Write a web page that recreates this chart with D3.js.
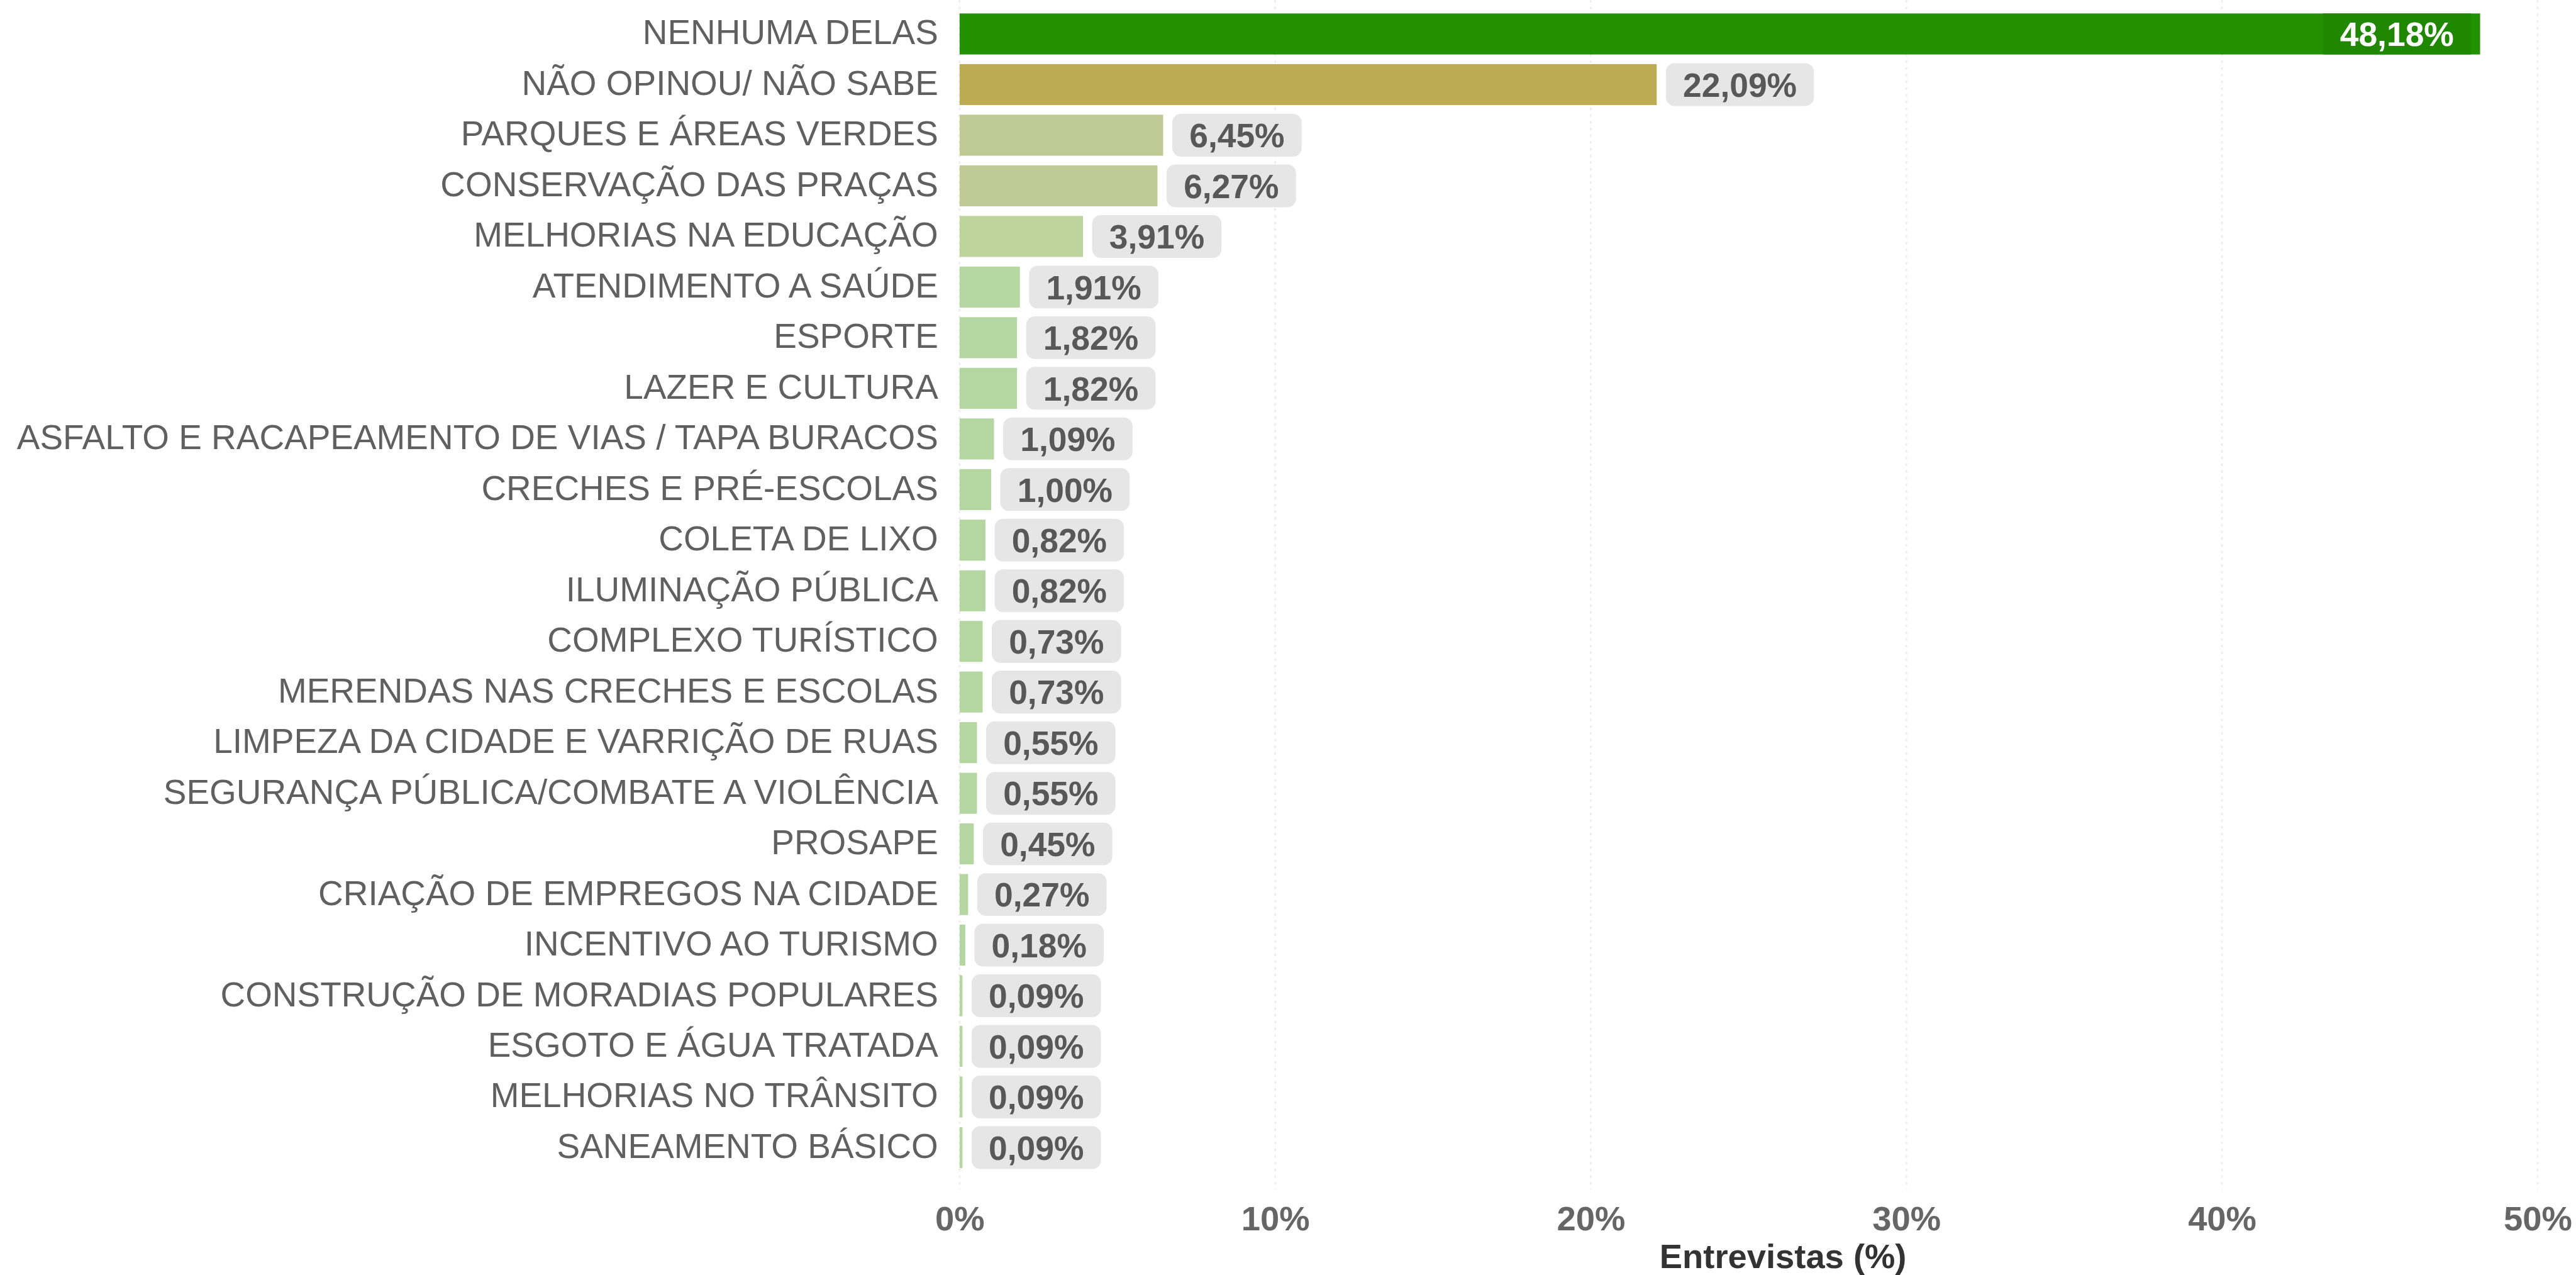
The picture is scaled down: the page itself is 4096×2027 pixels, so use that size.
<!DOCTYPE html>
<html>
<head>
<meta charset="utf-8">
<script src="https://cdn.jsdelivr.net/npm/d3@7"></script>
<style>
    html, body { margin: 0; padding: 0; background: #fff; }
    svg { display: block; font-family: "Liberation Sans", Arial, Helvetica, sans-serif; }
</style>
</head>
<body>
<svg id="plot"></svg>
<script>

// Data.

const CATEGORIES = [
    "NENHUMA DELAS",
    "NÃO OPINOU/ NÃO SABE",
    "PARQUES E ÁREAS VERDES",
    "CONSERVAÇÃO DAS PRAÇAS",
    "MELHORIAS NA EDUCAÇÃO",
    "ATENDIMENTO A SAÚDE",
    "ESPORTE",
    "LAZER E CULTURA",
    "ASFALTO E RACAPEAMENTO DE VIAS / TAPA BURACOS",
    "CRECHES E PRÉ-ESCOLAS",
    "COLETA DE LIXO",
    "ILUMINAÇÃO PÚBLICA",
    "COMPLEXO TURÍSTICO",
    "MERENDAS NAS CRECHES E ESCOLAS",
    "LIMPEZA DA CIDADE E VARRIÇÃO DE RUAS",
    "SEGURANÇA PÚBLICA/COMBATE A VIOLÊNCIA",
    "PROSAPE",
    "CRIAÇÃO DE EMPREGOS NA CIDADE",
    "INCENTIVO AO TURISMO",
    "CONSTRUÇÃO DE MORADIAS POPULARES",
    "ESGOTO E ÁGUA TRATADA",
    "MELHORIAS NO TRÂNSITO",
    "SANEAMENTO BÁSICO",
];

const VALUES = [
    48.18, 22.09, 6.45, 6.27, 3.91, 1.91, 1.82, 1.82, 1.09, 1.00, 0.82, 0.82,
    0.73, 0.73, 0.55, 0.55, 0.45, 0.27, 0.18, 0.09, 0.09, 0.09, 0.09,
];

const X_TICKS = [0, 10, 20, 30, 40, 50];
const X_TITLE = "Entrevistas (%)";

const data = CATEGORIES.map((c, i) => ({ "name": c, "value": VALUES[i] }));

// Dimensions (reference pixels, scaled by the viewBox).

const W = 4220, H = 2088;
const plot = d3.select("#plot")
    .attr("width", 4096)
    .attr("height", 2027)
    .attr("viewBox", `0 0 ${W} ${H}`);

const margin = { "T": 14, "L": 1572, "R": 4157, "B": 1921 };

//----------------------------------------------------------------------------//
//                                   SCALES                                   //
//----------------------------------------------------------------------------//

const xScale = d3.scaleLinear()
    .domain([0, 50])
    .range([margin.L, margin.R]);

const yScale = d3.scaleBand()
    .domain(CATEGORIES)
    .range([margin.T, margin.B])
    .paddingInner(0.19)
    .paddingOuter(0.095);

// Bar colours by rank.
function barColor(d, i) {
    if (i === 0) return "#239000";
    if (i === 1) return "#bcab52";
    if (d.value >= 5) return "#bfca95";
    if (d.value >= 3) return "#bcd39b";
    return "#b4d6a0";
}

//----------------------------------------------------------------------------//
//                                    GRID                                    //
//----------------------------------------------------------------------------//

plot.append("g")
    .selectAll("line")
    .data(X_TICKS)
    .join("line")
        .attr("x1", d => xScale(d))
        .attr("x2", d => xScale(d))
        .attr("y1", 0)
        .attr("y2", 1948)
        .attr("stroke", "#ededed")
        .attr("stroke-width", 3)
        .attr("stroke-dasharray", "4,7");

// x Axis.

const xAxis = d3.axisBottom(xScale)
    .tickValues(X_TICKS)
    .tickSize(0)
    .tickPadding(0)
    .tickFormat(d => d + "%");

const xAx = plot.append("g")
    .attr("transform", `translate(0, 2015)`)
    .call(xAxis);

xAx.select(".domain").remove();
xAx.selectAll("text")
    .attr("y", 0)
    .attr("dy", 0)
    .attr("font-family", null)
    .style("font-size", "56px")
    .style("font-weight", "bold")
    .attr("fill", "#666");

plot.append("text")
    .text(X_TITLE)
    .attr("x", 2921)
    .attr("y", 2077)
    .attr("text-anchor", "middle")
    .style("font-size", "56px")
    .style("font-weight", "bold")
    .attr("fill", "#333");

//----------------------------------------------------------------------------//
//                                    BARS                                    //
//----------------------------------------------------------------------------//

// y Axis labels.

plot.append("g")
    .selectAll("text")
    .data(data)
    .join("text")
        .text(d => d.name)
        .attr("x", 1537)
        .attr("y", d => yScale(d.name) + yScale.bandwidth() / 2)
        .attr("dy", "0.3em")
        .attr("text-anchor", "end")
        .style("font-size", "56.6px")
        .attr("fill", "#606060");

plot.append("g")
    .selectAll("rect")
    .data(data)
    .join("rect")
        .attr("x", xScale(0))
        .attr("y", d => yScale(d.name))
        .attr("width", d => xScale(d.value) - xScale(0))
        .attr("height", yScale.bandwidth())
        .attr("fill", (d, i) => barColor(d, i));

// Value labels.

const fmt = v => d3.format(".2f")(v).replace(".", ",") + "%";
const pad = 28, gap = 15, boxH = 70;

const labels = plot.append("g")
    .selectAll("g")
    .data(data)
    .join("g");

labels.each(function (d, i) {
    const g = d3.select(this);
    const cy = yScale(d.name) + yScale.bandwidth() / 2;
    const box = g.append("rect");
    const txt = g.append("text")
        .text(fmt(d.value))
        .attr("y", cy)
        .attr("dy", "0.36em")
        .style("font-size", "55px")
        .style("font-weight", "bold");

    const tw = txt.node().getComputedTextLength();
    const end = xScale(d.value);
    const inside = end + gap + tw + 2 * pad > margin.R;

    if (inside) {
        // Label sits inside the bar, on a darker patch.
        const bx = end - 15 - tw - 2 * pad;
        box.attr("x", bx)
            .attr("y", yScale(d.name))
            .attr("width", tw + 2 * pad)
            .attr("height", yScale.bandwidth())
            .attr("fill", "#1f8700");
        txt.attr("x", bx + pad).attr("fill", "#fff");
    } else {
        box.attr("x", end + gap)
            .attr("y", cy - boxH / 2)
            .attr("width", tw + 2 * pad)
            .attr("height", boxH)
            .attr("rx", 14)
            .attr("fill", "#e6e6e6");
        txt.attr("x", end + gap + pad).attr("fill", "#585858");
    }
});

</script>
</body>
</html>
